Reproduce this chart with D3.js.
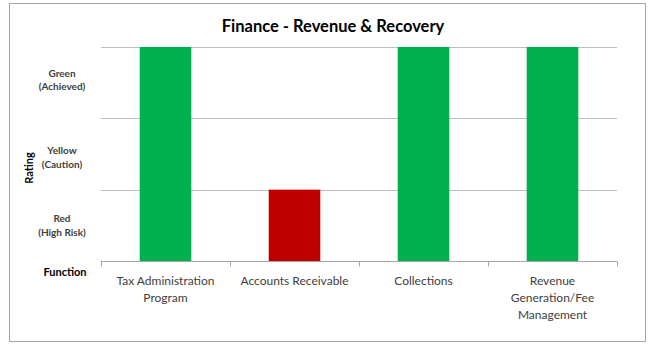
<!DOCTYPE html>
<html><head><meta charset="utf-8">
<script src="https://cdn.jsdelivr.net/npm/d3@7"></script>
<style>body{margin:0;background:#fff}svg{display:block}</style>
</head><body><svg id="c" width="655" height="348"></svg>
<script>
const title = "Finance - Revenue & Recovery";
const categories = [["Tax Administration","Program"],["Accounts Receivable"],["Collections"],["Revenue","Generation/Fee","Management"]];
const values = [3, 1, 3, 3];
const ratingLabels = [["Red","(High Risk)"],["Yellow","(Caution)"],["Green","(Achieved)"]];
const ratingColors = ["#C00000", "#FFFF00", "#00B050"];
const yTicks = [0, 1, 2, 3];

const svg = d3.select("#c");
const font = "Lato, 'Open Sans', sans-serif";
const M = {left: 101, right: 617, top: 47, bottom: 261};

svg.append("rect").attr("x", 9.5).attr("y", 3.5).attr("width", 636).attr("height", 338)
  .attr("fill", "#fff").attr("stroke", "#A6A6A6").attr("stroke-width", 1);

const x = d3.scaleBand().domain(d3.range(categories.length)).range([M.left, M.right]).paddingInner(0.6).paddingOuter(0.3);
const xb = d3.scaleBand().domain(d3.range(categories.length)).range([M.left, M.right]);
const y = d3.scaleLinear().domain([0, 3]).range([M.bottom, M.top]);

// gridlines
svg.append("g").selectAll("line").data(yTicks.slice(1)).join("line")
  .attr("x1", M.left).attr("x2", M.right)
  .attr("y1", d => Math.round(y(d)) + 0.5).attr("y2", d => Math.round(y(d)) + 0.5)
  .attr("stroke", "#BFBFBF").attr("stroke-width", 1.2);

// bars
svg.append("g").selectAll("rect").data(values).join("rect")
  .attr("x", (d, i) => x(i)).attr("width", x.bandwidth())
  .attr("y", d => y(d)).attr("height", d => y(0) - y(d))
  .attr("fill", d => ratingColors[d - 1]);

// x axis
const ax = svg.append("g").attr("transform", `translate(0,${Math.round(y(0)) + 0.5})`);
ax.append("line").attr("x1", M.left).attr("x2", M.right).attr("stroke", "#A6A6A6").attr("stroke-width", 1.2);
const edges = d3.range(categories.length + 1).map(i => i < categories.length ? xb(i) : M.right);
ax.selectAll("line.t").data(edges).join("line").attr("class", "t")
  .attr("x1", d => Math.round(d) + 0.5).attr("x2", d => Math.round(d) + 0.5)
  .attr("y1", 0).attr("y2", 5).attr("stroke", "#A6A6A6");

// category labels
categories.forEach((lines, i) => {
  const t = svg.append("text").attr("x", xb(i) + xb.bandwidth() / 2).attr("y", 285)
    .attr("text-anchor", "middle").attr("font-family", font).attr("font-size", 12).attr("fill", "#404040");
  lines.forEach((l, j) => t.append("tspan").attr("x", xb(i) + xb.bandwidth() / 2).attr("dy", j ? 17 : 0).text(l));
});

// rating labels
const labelShift = [-1, 2, -4];
ratingLabels.forEach((lines, i) => {
  const cy = (y(i) + y(i + 1)) / 2 + labelShift[i];
  const t = svg.append("text").attr("x", 62).attr("y", cy - 2)
    .attr("text-anchor", "middle").attr("font-family", font).attr("font-size", 10)
    .attr("font-weight", "bold").attr("fill", "#404040");
  lines.forEach((l, j) => t.append("tspan").attr("x", 62).attr("dy", j ? 13.5 : 0).text(l));
});

// axis titles
svg.append("text").attr("transform", "translate(33,168) rotate(-90)").attr("text-anchor", "middle")
  .attr("font-family", font).attr("font-size", 11).attr("font-weight", "bold").attr("fill", "#000").text("Rating");
svg.append("text").attr("x", 65).attr("y", 276).attr("text-anchor", "middle")
  .attr("font-family", font).attr("font-size", 11).attr("font-weight", "bold").attr("fill", "#000").text("Function");

// title
svg.append("text").attr("x", 333).attr("y", 32).attr("text-anchor", "middle")
  .attr("font-family", font).attr("font-size", 16.5).attr("font-weight", "bold").attr("fill", "#000").text(title);
</script></body></html>
